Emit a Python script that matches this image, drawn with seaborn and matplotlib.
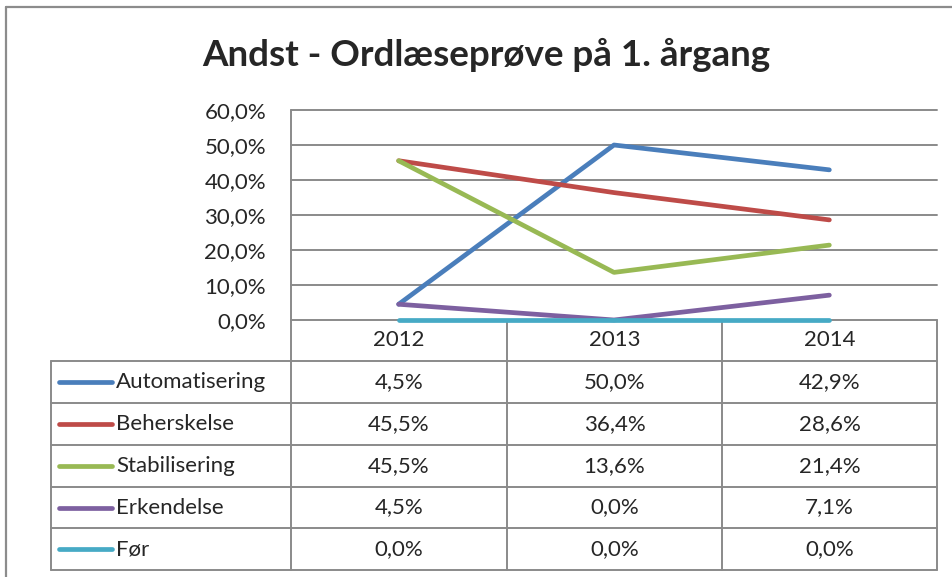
import numpy as np
import pandas as pd
import matplotlib
matplotlib.use('Agg')
import matplotlib.pyplot as plt
import seaborn as sns

# ── data
years = ['2012', '2013', '2014']
series = ['Automatisering', 'Beherskelse', 'Stabilisering', 'Erkendelse', 'Før']
automatisering = [4.5, 50.0, 42.9]
beherskelse = [45.5, 36.4, 28.6]
stabilisering = [45.5, 13.6, 21.4]
erkendelse = [4.5, 0.0, 7.1]
foer = [0.0, 0.0, 0.0]
yticks = [0, 10, 20, 30, 40, 50, 60]

colors = ['#4A7EBB', '#BE4B48', '#98B954', '#7D60A0', '#46AAC5']
values = [automatisering, beherskelse, stabilisering, erkendelse, foer]

rows = []
for name, vals in zip(series, values):
    for i, v in enumerate(vals):
        rows.append({'series': name, 'pos': i, 'value': v})
df = pd.DataFrame(rows)

sns.set_style('white')
plt.rcParams['font.family'] = ['Lato', 'DejaVu Sans']
FS = 16

W, H = 952, 577
fig = plt.figure(figsize=(W / 100, H / 100), dpi=100, facecolor='white')

# background axes in pixel coordinates (for frame + data table)
bg = fig.add_axes([0, 0, 1, 1])
bg.set_xlim(0, W)
bg.set_ylim(H, 0)
bg.axis('off')

GRID = '#8A8A8A'
x_left, x_right = 291, 937
y_top, y_zero = 110, 320
col_edges = [291, 507, 722, 937]
row_edges = [320, 361, 403, 445, 487, 528, 570]
leg_left = 51

# plot area
ax = fig.add_axes([x_left / W, 1 - y_zero / H, (x_right - x_left) / W, (y_zero - y_top) / H])
ax.set_facecolor('none')
for y in yticks:
    ax.axhline(y, color=GRID, lw=1.4, zorder=0)
sns.lineplot(data=df, x='pos', y='value', hue='series', hue_order=series,
             palette=colors, linewidth=3.4, legend=False, ax=ax,
             solid_capstyle='round', zorder=3)
ax.set_xlim(-0.5, len(years) - 0.5)
ax.set_ylim(0, 60)
ax.set_yticks(yticks)
ax.set_yticklabels([f'{t:.1f}%'.replace('.', ',') for t in yticks], fontsize=FS)
ax.set_xticks([])
ax.set_xlabel('')
ax.set_ylabel('')
ax.tick_params(axis='y', length=0, pad=18)
for s in ax.spines.values():
    s.set_visible(False)
for line in ax.lines:
    line.set_clip_on(False)

# outer frame
bg.plot([6, 6], [7, H], color='#8C8C8C', lw=1.6)
bg.plot([6, W], [7, 7], color='#8C8C8C', lw=1.6)

# title
fig.text(486 / W, 1 - 55 / H, 'Andst - Ordlæseprøve på 1. årgang',
         ha='center', va='center', fontsize=26.5, fontweight='bold')

# data table grid
lw = 1.4
bg.plot([x_left, x_left], [y_top, row_edges[-1]], color=GRID, lw=lw)
bg.plot([x_right, x_right], [row_edges[0], row_edges[-1]], color=GRID, lw=lw)
for xe in col_edges[1:-1]:
    bg.plot([xe, xe], [row_edges[0], row_edges[-1]], color=GRID, lw=lw)
bg.plot([leg_left, leg_left], [row_edges[1], row_edges[-1]], color=GRID, lw=lw)
for ye in row_edges[1:]:
    bg.plot([leg_left, x_right], [ye, ye], color=GRID, lw=lw)

# header
for j, yr in enumerate(years):
    xc = (col_edges[j] + col_edges[j + 1]) / 2
    bg.text(xc, (row_edges[0] + row_edges[1]) / 2, yr, ha='center', va='center', fontsize=FS)

# rows
for i, (name, vals, c) in enumerate(zip(series, values, colors)):
    yc = (row_edges[i + 1] + row_edges[i + 2]) / 2
    bg.plot([59, 112], [yc, yc], color=c, lw=3.4, solid_capstyle='round')
    bg.text(116, yc, name, ha='left', va='center', fontsize=FS)
    for j, v in enumerate(vals):
        xc = (col_edges[j] + col_edges[j + 1]) / 2
        bg.text(xc, yc, f'{v:.1f}%'.replace('.', ','), ha='center', va='center', fontsize=FS)

fig.savefig('out.png', dpi=100, facecolor='white')
